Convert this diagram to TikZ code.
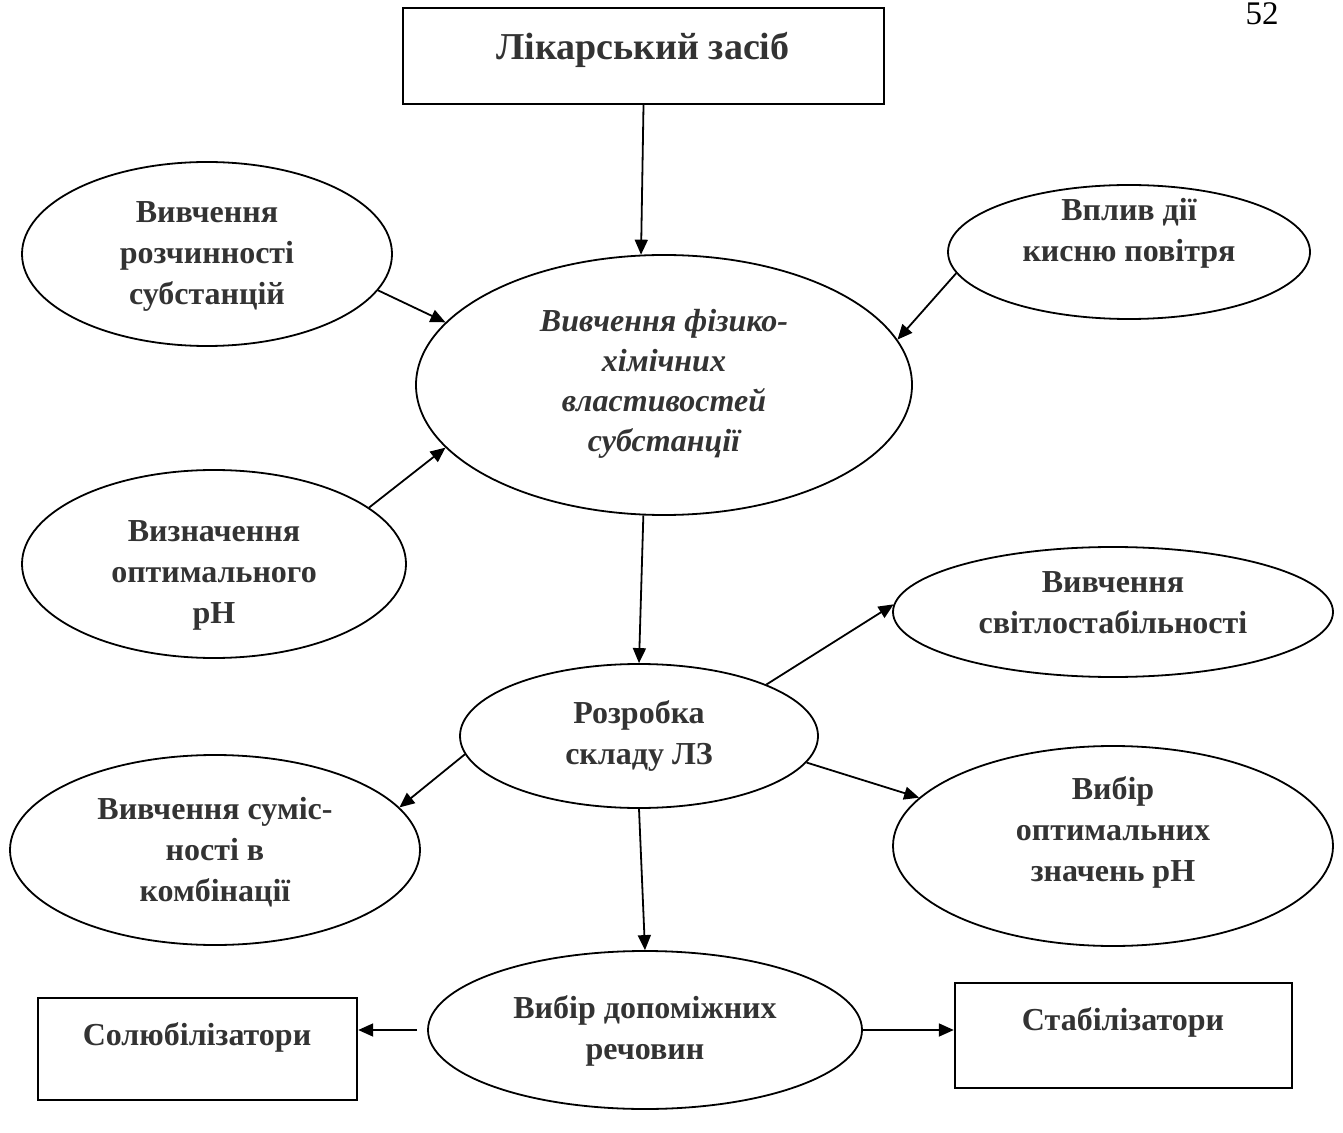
\documentclass[tikz,border=0pt]{standalone}
\usepackage{fontspec}
\setmainfont{Liberation Serif}
\usetikzlibrary{shapes.geometric,arrows.meta}
\definecolor{txtgray}{HTML}{333333}
\begin{document}
\begin{tikzpicture}[x=0.5pt,y=-0.5pt]
        \tikzstyle{ell}=[ellipse,draw=black,line width=0.9pt,inner sep=0pt]
        \tikzstyle{bx}=[rectangle,draw=black,line width=1.2pt,inner sep=0pt]
        \tikzstyle{txt}=[align=center,text=txtgray,font=\fontsize{16}{20.5}\selectfont\bfseries]
        \tikzstyle{arr}=[-{Triangle[length=7.5pt,width=6.5pt]},line width=0.9pt]
        \useasboundingbox (0,0) rectangle (1343,1133);

        \node [font=\fontsize{16.5}{18}\selectfont] (pg) at (1262,14) {52};

        % boxes
        \node [bx,minimum width=240.5pt,minimum height=48pt] (liksz) at (643.5,56) {};
        \node [txt,font=\fontsize{19}{22}\selectfont\bfseries] (liksz-t) at (643,50) {Лікарський засіб};
        \node [bx,minimum width=159.5pt,minimum height=51pt] (sol) at (197.5,1049) {};
        \node [txt] (sol-t) at (197,1037) {Солюбілізатори};
        \node [bx,minimum width=168.5pt,minimum height=52.5pt] (stab) at (1123.5,1035.5) {};
        \node [txt] (stab-t) at (1123,1022) {Стабілізатори};

        % ellipses
        \node [ell,minimum width=248pt,minimum height=130pt] (fiz) at (664,385) {};
        \node [txt,font=\fontsize{16}{20}\selectfont\bfseries\itshape] (fiz-t) at (664,384) {Вивчення фізико-\\хімічних\\властивостей\\субстанції};
        \node [ell,minimum width=185pt,minimum height=92pt] (rozch) at (207,254) {};
        \node [txt] (rozch-t) at (207,256) {Вивчення\\розчинності\\субстанцій};
        \node [ell,minimum width=181pt,minimum height=67pt] (vplyv) at (1129,252) {};
        \node [txt] (vplyv-t) at (1129,233) {Вплив дії\\кисню повітря};
        \node [ell,minimum width=192pt,minimum height=94pt] (ph) at (214,564) {};
        \node [txt] (ph-t) at (214,575) {Визначення\\оптимального\\pH};
        \node [ell,minimum width=179pt,minimum height=72pt] (rozrob) at (639,736) {};
        \node [txt] (rozrob-t) at (639,736) {Розробка\\складу ЛЗ};
        \node [ell,minimum width=220pt,minimum height=65pt] (svitlo) at (1113,612) {};
        \node [txt] (svitlo-t) at (1113,603) {Вивчення\\світлостабільності};
        \node [ell,minimum width=205pt,minimum height=95pt] (sumis) at (215,850) {};
        \node [txt] (sumis-t) at (215,852) {Вивчення суміс-\\ності в\\комбінації};
        \node [ell,minimum width=220pt,minimum height=100pt] (optph) at (1113,846) {};
        \node [txt] (optph-t) at (1113,832) {Вибір\\оптимальних\\значень pH};
        \node [ell,minimum width=217pt,minimum height=79pt] (dop) at (645,1030) {};
        \node [txt] (dop-t) at (645,1031) {Вибір допоміжних\\речовин};

        % arrows
        \draw [arr] (liksz.south) -- (fiz.100);
        \draw [arr] (rozch.-12) -- (fiz.164);
        \draw [arr] (ph.20) -- (fiz.-164);
        \draw [arr] (vplyv.187) -- (fiz.11);
        \draw [arr] (fiz.-99) -- (rozrob.north);
        \draw [arr] (rozrob.22) -- (svitlo.178);
        \draw [arr] (rozrob.186) -- (sumis.13);
        \draw [arr] (rozrob.-9) -- (optph.166);
        \draw [arr] (rozrob.south) -- (dop.north);
        \draw [arr,shorten <=5pt] (dop.west) -- (sol.east |- dop.west);
        \draw [arr] (dop.east) -- (stab.west |- dop.east);
\end{tikzpicture}
\end{document}
